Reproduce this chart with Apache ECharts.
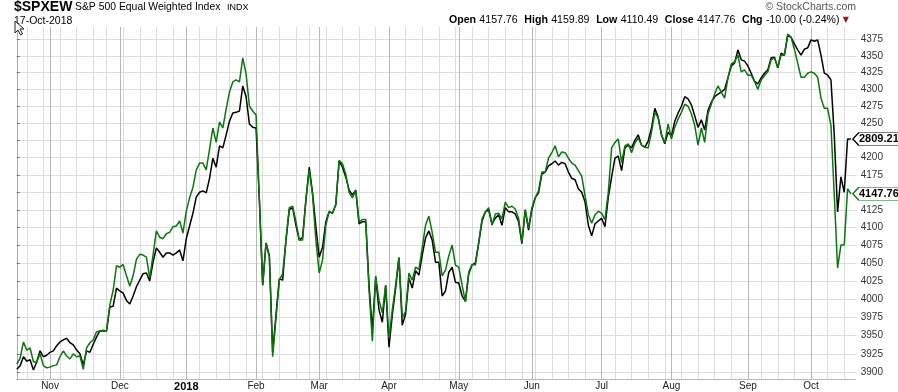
<!DOCTYPE html>
<html><head><meta charset="utf-8">
<script src="https://cdn.jsdelivr.net/npm/echarts@6/dist/echarts.min.js"></script>
<style>html,body{margin:0;padding:0;background:#fff}#c{width:898px;height:392px}</style>
</head><body><div id="c"></div>
<script>
// ---------- DATA ----------
const startDate = '2017-10-18';
const endDate = '2018-10-17';
const holidays = ['2017-11-23','2017-12-25','2018-01-01','2018-01-15','2018-02-19','2018-03-30','2018-05-28','2018-07-04','2018-09-03'];
const monthNames = ['Jan','Feb','Mar','Apr','May','Jun','Jul','Aug','Sep','Oct','Nov','Dec'];
const yTicks = [3900,3925,3950,3975,4000,4025,4050,4075,4100,4125,4150,4175,4200,4225,4250,4275,4300,4325,4350,4375];

// $SPXEW (green)
const spxewValues = [
3911,3919,3941,3930,3933,3914,3914,3925,3909,3906,
3907,3909,3910,3921,3929,3922,3918,3925,3921,3922,
3904,3933,3940,3944,3955,3956,3957,3956,3992,4012,
4046,4044,4048,4032,4018,4032,4055,4062,4061,4058,
4029,4061,4095,4086,4084,4091,4093,4101,4102,4109,
4092,4123,4142,4157,4182,4192,4192,4182,4212,4243,
4222,4252,4243,4271,4296,4311,4314,4311,4347,4323,
4275,4268,4262,4139,4019,4078,4058,3921,3974,4026,
4035,4082,4128,4130,4108,4082,4082,4139,4182,4146,
4082,4036,4054,4103,4123,4120,4133,4196,4191,4176,
4150,4142,4153,4108,4111,4111,4012,3942,4032,3998,
3981,4019,3946,3985,4019,4058,3974,3983,4036,4026,
4044,4041,4071,4103,4116,4093,4065,4065,4032,4040,
4060,4075,4047,4044,4019,3996,4037,4048,4047,4078,
4112,4122,4128,4103,4119,4120,4112,4136,4128,4130,
4126,4113,4079,4125,4099,4128,4142,4152,4179,4179,
4199,4207,4217,4201,4208,4207,4199,4192,4189,4181,
4173,4145,4118,4106,4118,4123,4120,4111,4150,4214,
4222,4227,4193,4217,4220,4207,4221,4228,4218,4215,
4214,4237,4266,4258,4233,4221,4249,4227,4244,4256,
4266,4278,4275,4264,4247,4218,4243,4222,4264,4278,
4293,4305,4296,4287,4317,4338,4341,4351,4326,4329,
4321,4321,4312,4300,4314,4320,4326,4344,4347,4333,
4351,4351,4383,4378,4360,4339,4318,4318,4324,4326,
4324,4318,4287,4272,4272,4247,4146,4043,4075,4075,
4155,4147.76
];

// S&P 500 overlay (black), in the chart's price scale
const spxOverlayValues = [
3904,3909,3921,3915,3917,3903,3914,3929,3921,3923,
3927,3929,3936,3941,3944,3946,3940,3937,3930,3925,
3910,3929,3927,3938,3948,3956,3956,3956,3989,3990,
4015,4011,4008,3998,3993,4004,4017,4026,4035,4036,
4025,4051,4071,4065,4058,4064,4064,4061,4064,4068,
4053,4084,4102,4120,4143,4150,4152,4149,4170,4199,
4186,4217,4214,4233,4253,4265,4266,4268,4305,4289,
4249,4244,4243,4139,4019,4078,4060,3927,3978,4028,
4026,4082,4125,4128,4103,4082,4086,4139,4186,4149,
4101,4058,4072,4108,4122,4120,4132,4195,4186,4172,
4153,4146,4153,4105,4108,4108,4019,3957,4030,3985,
3968,4019,3934,3978,4015,4057,3964,3979,4029,4015,
4039,4033,4061,4085,4095,4082,4051,4051,4004,4011,
4037,4044,4023,4022,4004,3997,4035,4047,4050,4078,
4109,4122,4125,4105,4113,4118,4103,4128,4122,4122,
4119,4108,4077,4125,4096,4125,4142,4149,4176,4179,
4188,4191,4195,4189,4193,4191,4179,4170,4168,4155,
4150,4136,4103,4088,4105,4109,4113,4101,4143,4172,
4199,4202,4181,4214,4218,4214,4225,4233,4218,4215,
4224,4243,4272,4259,4233,4220,4237,4231,4253,4265,
4275,4289,4286,4277,4261,4244,4255,4240,4269,4281,
4289,4293,4296,4300,4317,4335,4339,4359,4344,4342,
4335,4324,4312,4308,4317,4324,4329,4347,4348,4332,
4354,4351,4381,4378,4368,4359,4351,4360,4362,4374,
4372,4374,4351,4324,4321,4314,4233,4122,4172,4150,
4227,4227
];
const spxOverlayLabel = '2809.21';
const spxewLabel = '4147.76';

// ---------- BUILD ----------
function buildTradingDays(start, end, hol) {
  const out = [], hs = new Set(hol);
  let d = new Date(start + 'T00:00:00Z');
  const e = new Date(end + 'T00:00:00Z');
  while (d <= e) {
    const wd = d.getUTCDay(), s = d.toISOString().slice(0, 10);
    if (wd !== 0 && wd !== 6 && !hs.has(s)) out.push(s);
    d = new Date(d.getTime() + 86400000);
  }
  return out;
}
const dates = buildTradingDays(startDate, endDate, holidays);
const monthIdx = [], monthLab = {}, weekIdx = [];
for (let i = 1; i < dates.length; i++) {
  const m = dates[i].slice(5, 7);
  if (m !== dates[i - 1].slice(5, 7)) {
    monthIdx.push(i);
    monthLab[i] = m === '01' ? '{y|' + dates[i].slice(0, 4) + '}' : monthNames[+m - 1];
  }
  const a = new Date(dates[i] + 'T00:00:00Z').getUTCDay();
  const b = new Date(dates[i - 1] + 'T00:00:00Z').getUTCDay();
  if (a <= b) weekIdx.push(i);
}
const greenData = spxewValues.map((v, i) => [i, v]);
const blackData = spxOverlayValues.map((v, i) => [i, v]);
const lastI = dates.length - 1;

const FF = '"Liberation Sans", Arial, sans-serif';
const xMax = 252.75;
const yMin = 3890.6, yMax = 4393.5;

const tagPath = 'path://M0,6 L6,0 L46,0 L46,12 L6,12 Z';
function tag(label, border, value) {
  return {
    symbol: tagPath, symbolSize: [46, 13], symbolOffset: [25, 0], silent: true, animation: false,
    itemStyle: { color: '#fff', borderColor: border, borderWidth: 1 },
    label: { show: true, position: 'inside', formatter: label, color: '#000', fontWeight: 'bold', fontSize: 11, fontFamily: FF, offset: [3, 0] },
    data: [{ coord: [lastI, value] }]
  };
}

const chart = echarts.init(document.getElementById('c'), null, { renderer: 'canvas' });
chart.setOption({
  animation: false,
  backgroundColor: '#fff',
  grid: { left: 16.8, right: 41.3, top: 27, bottom: 12.7, containLabel: false, outerBoundsMode: 'none' },
  xAxis: [
    { type: 'value', min: 0, max: xMax, position: 'bottom',
      axisLine: { show: true, lineStyle: { color: '#aaa', type: 'dotted', width: 1 } },
      axisTick: { show: false, customValues: weekIdx },
      axisLabel: { show: false },
      splitLine: { show: true, lineStyle: { color: '#dddddd', width: 1 } } },
    { type: 'value', min: 0, max: xMax, position: 'bottom',
      axisLine: { show: false },
      axisTick: { show: false, customValues: monthIdx },
      axisLabel: { show: true, customValues: monthIdx, margin: 2, fontSize: 10, fontFamily: FF, color: '#222',
        formatter: v => monthLab[Math.round(v)] || '',
        rich: { y: { fontWeight: 'bold', fontSize: 11, fontFamily: FF, color: '#000' } } },
      splitLine: { show: true, lineStyle: { color: '#b8b8b8', width: 1 } } }
  ],
  yAxis: [
    { type: 'log', min: yMin, max: yMax, position: 'right',
      axisLine: { show: true, lineStyle: { color: '#999', width: 1 } },
      axisTick: { show: true, customValues: yTicks, length: 3, inside: false, lineStyle: { color: '#777' } },
      axisLabel: { show: true, customValues: yTicks, margin: 4, fontSize: 10, fontFamily: FF, color: '#333',
        formatter: v => String(Math.round(v)) },
      splitLine: { show: true, lineStyle: { color: '#dddddd', width: 1 } } },
    { type: 'value', min: 0, max: 1, position: 'left',
      axisLine: { show: true, lineStyle: { color: '#aaa', width: 1 } },
      axisTick: { show: false }, axisLabel: { show: false }, splitLine: { show: false } }
  ],
  series: [
    { name: 'SPX', type: 'line', xAxisIndex: 0, yAxisIndex: 0, data: blackData, symbol: 'none', showSymbol: false,
      lineStyle: { color: '#000', width: 1.5 }, z: 3, markPoint: tag(spxOverlayLabel, '#000', spxOverlayValues[lastI]) },
    { name: 'SPXEW', type: 'line', xAxisIndex: 0, yAxisIndex: 0, data: greenData, symbol: 'none', showSymbol: false,
      lineStyle: { color: '#0b760b', width: 1.5 }, z: 4, markPoint: tag(spxewLabel, '#0b760b', spxewValues[lastI]) }
  ],
  graphic: [
    { type: 'text', x: 14, y: 7.4, style: { text: '$SPXEW', font: 'bold 14px ' + FF, fill: '#000', verticalAlign: 'middle' } },
    { type: 'text', x: 75, y: 7.6, style: { text: 'S&P 500 Equal Weighted Index', font: '10.4px ' + FF, fill: '#000', verticalAlign: 'middle' } },
    { type: 'text', x: 227, y: 7.9, style: { text: 'INDX', font: '9px ' + FF, fill: '#000', verticalAlign: 'middle' } },
    { type: 'text', x: 14, y: 21.4, style: { text: '17-Oct-2018', font: '10.5px ' + FF, fill: '#000', verticalAlign: 'middle' } },
    { type: 'text', x: 856, y: 7.6, style: { text: '\u00a9 StockCharts.com', font: '10.5px ' + FF, fill: '#555', align: 'right', verticalAlign: 'middle' } },
    { type: 'text', x: 849, y: 20.2, style: {
        text: '{b|Open} {n|4157.76}  {b|High} {n|4159.89}  {b|Low} {n|4110.49}  {b|Close} {n|4147.76}  {b|Chg} {n|-10.00 (-0.24%)} {r|\u25BC}',
        align: 'right', verticalAlign: 'middle',
        rich: {
          b: { fontWeight: 'bold', fontSize: 10.6, fontFamily: FF, fill: '#000' },
          n: { fontSize: 10.6, fontFamily: FF, fill: '#000' },
          r: { fontSize: 8, fontFamily: 'DejaVu Sans', fill: '#a0102a' }
        } } },
    { type: 'polygon', x: 15, y: 21, shape: { points: [[0,0],[0,12],[3,9],[5.5,14],[7.5,13],[5,8],[9,8]] },
      style: { fill: '#fff', stroke: '#222', lineWidth: 1 }, z: 100 }
  ]
});
</script>
</body></html>
